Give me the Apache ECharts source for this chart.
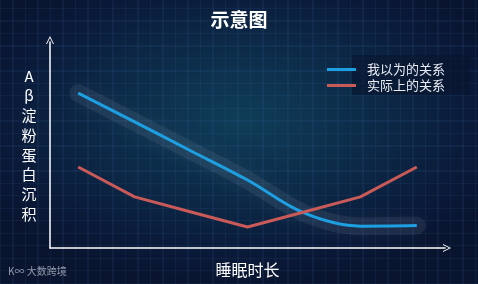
<!DOCTYPE html>
<html>
<head>
<meta charset="utf-8">
<script src="https://cdn.jsdelivr.net/npm/echarts@6/dist/echarts.min.js"></script>
<style>
html,body{margin:0;padding:0;background:#0a1733;}
#c{width:478px;height:284px;
background:
 repeating-linear-gradient(90deg, rgba(60,110,170,0.11) 0 1px, transparent 1px 12.5px),
 repeating-linear-gradient(0deg, rgba(60,110,170,0.11) 0 1px, transparent 1px 12.5px),
 radial-gradient(ellipse 300px 170px at 240px 120px, #0f3d58 0%, #0c2a48 45%, #0a1938 80%, #09142e 100%);
}
</style>
</head>
<body>
<div id="c"></div>
<script>
var categories = ['1','2','3','4','5','6','7'];
var believedValues = [75.2, 61.2, 47.1, 33.0, 17.0, 10.6, 10.9];
var actualValues = [39.3, 24.8, 17.5, 10.2, 17.5, 24.8, 39.3];
var seriesNames = ['我以为的关系', '实际上的关系'];

var chart = echarts.init(document.getElementById('c'), null, {renderer: 'canvas'});
var fontFam = '"Noto Sans CJK SC", "Noto Sans", sans-serif';
var chevron = 'path://M0,10 L5,0 L10,10 L8.8,10 L5,2.4 L1.2,10 Z';
chart.setOption({
  backgroundColor: 'transparent',
  animation: false,
  title: {
    text: '示意图', left: 'center', top: 5,
    textStyle: {color: '#ffffff', fontSize: 19, fontWeight: 'bold', fontFamily: fontFam}
  },
  graphic: [
    {type: 'rect', left: 352, top: 55, shape: {width: 118, height: 40}, style: {fill: 'rgba(8,20,45,0.6)'}, z: 0, silent: true},
    {type: 'text', left: 8, top: 266, style: {text: 'K∞ 大数跨境', fill: 'rgba(190,195,210,0.75)', font: '10px "Noto Sans CJK SC"'}, z: 10}
  ],
  legend: {
    orient: 'vertical', left: 322, top: 58, itemGap: 3,
    itemWidth: 29, itemHeight: 3, icon: 'rect',
    textStyle: {color: '#e8ecf2', fontSize: 13, fontFamily: fontFam, padding: [0, 0, 0, 6]},
    data: seriesNames
  },
  grid: {left: 50, right: 33, top: 42, bottom: 36, outerBoundsMode: 'none', containLabel: false},
  xAxis: {
    type: 'category', data: categories, boundaryGap: true,
    name: '睡眠时长', nameLocation: 'middle', nameGap: 14,
    nameTextStyle: {color: '#ffffff', fontSize: 16, fontFamily: fontFam},
    axisLine: {lineStyle: {color: '#ffffff', width: 1.5}, symbol: ['none', chevron], symbolSize: [10, 8], symbolOffset: [0, 2]},
    axisTick: {show: false}, axisLabel: {show: false}, splitLine: {show: false}
  },
  yAxis: {
    type: 'value', min: 0, max: 100,
    name: 'A\nβ\n淀\n粉\n蛋\n白\n沉\n积', nameLocation: 'middle', nameGap: 21, nameRotate: 0,
    nameTextStyle: {color: '#ffffff', fontSize: 15, lineHeight: 19.7, fontFamily: fontFam, align: 'center'},
    axisLine: {show: true, lineStyle: {color: '#ffffff', width: 1.5}, symbol: ['none', chevron], symbolSize: [10, 8], symbolOffset: [0, 2]},
    axisTick: {show: false}, axisLabel: {show: false}, splitLine: {show: false}
  },
  series: [
    {
      name: 'glow', type: 'line', data: believedValues, smooth: 0.35,
      showSymbol: false, symbol: 'none', silent: true,
      lineStyle: {color: 'rgba(190,195,215,0.09)', width: 18, cap: 'round', shadowColor: 'rgba(205,210,230,0.6)', shadowBlur: 22},
      z: 2
    },
    {
      name: seriesNames[0], type: 'line', data: believedValues, smooth: 0.35,
      showSymbol: false, symbol: 'none',
      itemStyle: {color: '#1ca0e2'},
      lineStyle: {color: '#1ca0e2', width: 3},
      z: 3
    },
    {
      name: seriesNames[1], type: 'line', data: actualValues,
      showSymbol: false, symbol: 'none',
      itemStyle: {color: '#c95a58'},
      lineStyle: {color: '#c95a58', width: 3},
      z: 4
    }
  ]
});
</script>
</body>
</html>
